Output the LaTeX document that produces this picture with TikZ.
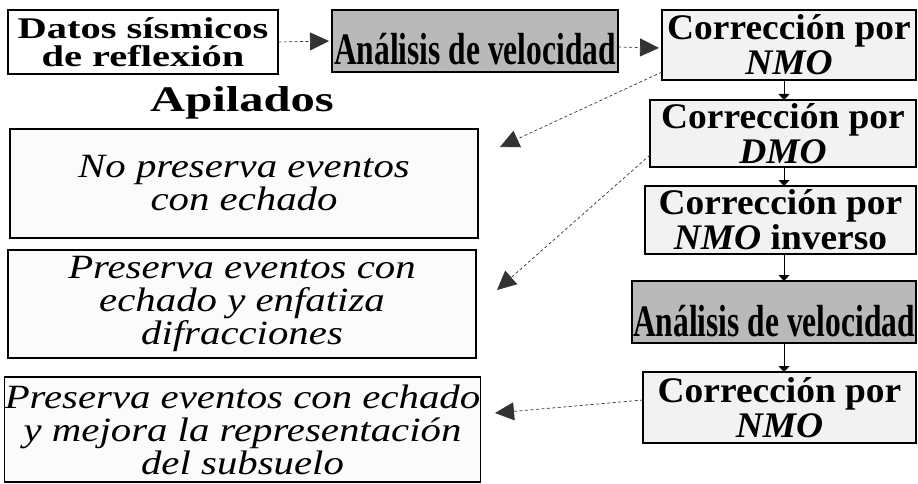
\documentclass[tikz,border=0pt]{standalone}
\usepackage{fontspec}
\setmainfont{Liberation Serif}
\newfontfamily\wideserif[FakeStretch=1.35]{Liberation Serif}
\newfontfamily\condserif[FakeStretch=0.7]{Liberation Serif}
\newfontfamily\itserif[FakeStretch=1.2]{Liberation Serif}
\newfontfamily\corrfont[FakeStretch=1.04]{Liberation Serif}
\usetikzlibrary{arrows.meta}
\tikzset{
  box/.style={draw=black, line width=1.3pt, inner sep=0pt, outer sep=0pt, anchor=center, align=center},
  corr/.style={box, fill=gray!10, font={\corrfont\fontsize{36}{35}\selectfont\bfseries}},
  leftbox/.style={box, fill=gray!3, font={\itserif\fontsize{34}{33}\selectfont\itshape}},
  anal/.style={box, fill=gray!55},
  analtext/.style={anchor=base, inner sep=0pt, font={\condserif\fontsize{45}{45}\selectfont\bfseries}},
  flow/.style={-{Triangle[length=6pt,width=11pt]}, line width=1pt},
  link/.style={-{Triangle[length=19pt,width=18pt]}, line width=0.7pt, draw=black!80, dash pattern=on 3pt off 2.5pt}
}
\begin{document}
\begin{tikzpicture}[x=1pt,y=-1pt]
\useasboundingbox (0,0) rectangle (918,484);
\fill[white] (0,0) rectangle (918,484);

% top row
\node[box, fill=white, minimum width=270pt, minimum height=64pt,
      font={\wideserif\fontsize{30}{28}\selectfont\bfseries}] (datos) at (143,42)
      {Datos sísmicos\\de reflexión};
\node[anal, minimum width=286pt, minimum height=62pt] (av1) at (475,41) {};
\node[analtext] (av1t) at ([yshift=7pt]av1.south) {Análisis de velocidad};

% right column
\node[corr, minimum width=254pt, minimum height=70pt] (nmo1) at (789,45)
      {Corrección por\\\textit{NMO}};
\node[corr, minimum width=266pt, minimum height=67pt] (dmo) at (783,133.5)
      {Corrección por\\\textit{DMO}};
\node[corr, minimum width=271pt, minimum height=68pt] (nmoinv) at (780.5,220)
      {Corrección por\\\textit{NMO} inverso};
\node[anal, minimum width=284pt, minimum height=62pt] (av2) at (774,312) {};
\node[analtext] (av2t) at ([yshift=7pt]av2.south) {Análisis de velocidad};
\node[corr, minimum width=273pt, minimum height=71pt] (nmo2) at (779.5,407.5)
      {Corrección por\\\textit{NMO}};

% left column
\node[inner sep=0pt, font={\wideserif\fontsize{36}{36}\selectfont\bfseries}] (apil) at (242,103) {Apilados};
\node[leftbox, minimum width=468pt, minimum height=109pt] (b1) at (244,183.5)
      {No preserva eventos\\con echado};
\node[leftbox, minimum width=468pt, minimum height=108pt] (b2) at (242,304)
      {Preserva eventos con\\echado y enfatiza\\difracciones};
\node[leftbox, minimum width=469pt, minimum height=105pt] (b3) at (242.5,429.5)
      {Preserva eventos con echado\\y mejora la representación\\del subsuelo};

% flow arrows
\coordinate (col) at (784,0);
\draw[flow] (col |- nmo1.south) -- (col |- dmo.north);
\draw[flow] (col |- dmo.south) -- (col |- nmoinv.north);
\draw[flow] (col |- nmoinv.south) -- (col |- av2.north);
\draw[flow] (col |- av2.south) -- (col |- nmo2.north);

% dashed links
\draw[link, shorten >=3pt] (datos.east) -- (av1.west);
\draw[link, shorten >=3pt] ([yshift=-6pt]av1.east) -- ([yshift=-3pt]nmo1.west);
\coordinate (t1) at (500,147);
\coordinate (t2) at (497,290);
\coordinate (t3) at (495,413);
\draw[link] ([yshift=8pt]nmo1.south west) -- (t1);
\draw[link] ([yshift=-21.5pt]dmo.west) -- (t2);
\draw[link] ([yshift=7.5pt]nmo2.west) -- (t3);
\end{tikzpicture}
\end{document}
